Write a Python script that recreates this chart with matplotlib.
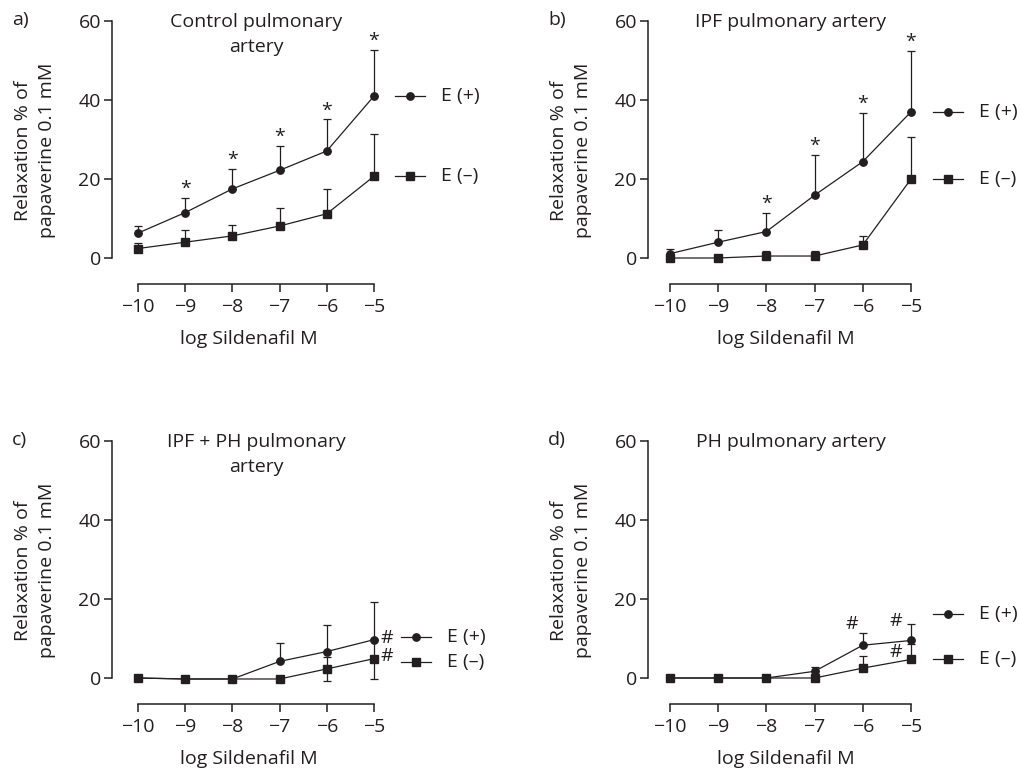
import numpy as np
import matplotlib
matplotlib.use("Agg")
import matplotlib.pyplot as plt

plt.rcParams['font.family'] = ['Open Sans', 'DejaVu Sans']
plt.rcParams['axes.unicode_minus'] = True

INK = '#231f20'

# log Sildenafil concentration (M)
log_conc = [-10, -9, -8, -7, -6, -5]

# relaxation (% of papaverine 0.1 mM), mean and error bar, E(+) / E(-)
a_ep = [6.3, 11.5, 17.5, 22.2, 27.1, 41.0]
a_ep_err = [1.9, 3.7, 5.1, 6.1, 8.0, 11.7]
a_em = [2.4, 4.0, 5.6, 8.1, 11.2, 20.7]
a_em_err = [1.5, 3.2, 2.8, 4.5, 6.2, 10.6]

b_ep = [1.1, 4.0, 6.7, 15.9, 24.4, 37.0]
b_ep_err = [1.3, 3.0, 4.8, 10.3, 12.4, 15.4]
b_em = [0.0, 0.0, 0.5, 0.5, 3.3, 20.0]
b_em_err = [0.3, 0.0, 1.3, 1.3, 2.3, 10.6]

c_ep = [0.0, -0.25, -0.25, 4.2, 6.7, 9.7]
c_ep_err = [0.0, 0.0, 0.0, 4.7, 6.7, 9.6]
c_em = [0.0, -0.25, -0.25, -0.25, 2.3, 4.9]
c_em_err = [0.0, 0.0, 0.0, 0.0, 3.0, 5.1]

d_ep = [0.0, 0.0, 0.0, 1.7, 8.3, 9.5]
d_ep_err = [0.0, 0.0, 0.0, 1.0, 3.1, 4.2]
d_em = [0.0, 0.0, 0.0, 0.0, 2.5, 4.7]
d_em_err = [0.0, 0.0, 0.0, 0.0, 3.0, 3.9]

titles = ['Control pulmonary\nartery', 'IPF pulmonary artery',
          'IPF + PH pulmonary\nartery', 'PH pulmonary artery']
letters = ['a)', 'b)', 'c)', 'd)']

# significance marks: (symbol, series, index, dx, dy) offsets in points
marks_a = [('*', 'ep', i, 0, 0) for i in range(1, 6)]
marks_b = [('*', 'ep', i, 0, 0) for i in range(2, 6)]
marks_c = [('#', 'ep', 5, 9, 1), ('#', 'em', 5, 9, 2)]
marks_d = [('#', 'ep', 4, -8, 15), ('#', 'ep', 5, -11, 14), ('#', 'em', 5, -11, 5)]

# pixel layout: y-spine x, x of -10, x of -5, y of 60, y of 0, x-spine y
layout = [
    (112, 138, 374, 21, 258, 284),
    (648, 670, 911, 21, 258, 284),
    (112, 138, 374, 441, 678, 704),
    (648, 670, 911, 441, 678, 704),
]
# legend anchor (x of marker, y of E(+), y of E(-)) in data units
legend_pos = [(-4.23, 41.0, 20.7), (-4.23, 37.0, 20.0),
              (-4.11, 10.4, 4.0), (-4.23, 16.1, 4.9)]

W, H = 1021, 771
fig = plt.figure(figsize=(W / 100, H / 100), dpi=100)

panels = [
    (a_ep, a_ep_err, a_em, a_em_err, False, marks_a),
    (b_ep, b_ep_err, b_em, b_em_err, False, marks_b),
    (c_ep, c_ep_err, c_em, c_em_err, True, marks_c),
    (d_ep, d_ep_err, d_em, d_em_err, False, marks_d),
]

FS = 14
for k, (ep, ep_err, em, em_err, sym_em, marks) in enumerate(panels):
    ysp, x10, x5, y60, y0, xsp = layout[k]
    ppu = (x5 - x10) / 5.0
    ppv = (y0 - y60) / 60.0
    right_px = x5 + 12
    top_px = y60 - 4
    ax = fig.add_axes([ysp / W, 1 - xsp / H, (right_px - ysp) / W, (xsp - top_px) / H])
    ax.set_xlim(-10 - (x10 - ysp) / ppu, -5 + 12 / ppu)
    ax.set_ylim(-(xsp - y0) / ppv, 60 + 4 / ppv)
    ax.patch.set_visible(False)

    for s in ['top', 'right']:
        ax.spines[s].set_visible(False)
    for s in ['left', 'bottom']:
        ax.spines[s].set_color(INK)
        ax.spines[s].set_linewidth(1.1)
    ax.spines['left'].set_bounds(0, 60)
    ax.spines['bottom'].set_bounds(-10, -5)
    ax.set_xticks(log_conc)
    ax.set_yticks([0, 20, 40, 60])
    ax.tick_params(direction='out', length=6, width=1.1, color=INK,
                   labelcolor=INK, labelsize=FS, pad=2)
    ax.tick_params(axis='x', pad=4)

    x = np.array(log_conc, dtype=float)
    ep = np.array(ep); em = np.array(em)
    ep_err = np.array(ep_err); em_err = np.array(em_err)

    ebk = dict(fmt='none', ecolor=INK, elinewidth=0.9, capsize=2.6, capthick=0.9, clip_on=False)
    ax.errorbar(x, ep, yerr=[np.zeros_like(ep_err), ep_err], zorder=2, **ebk)
    low = em_err if sym_em else np.zeros_like(em_err)
    ax.errorbar(x, em, yerr=[low, em_err], zorder=2, **ebk)

    ax.plot(x, ep, '-', color=INK, lw=0.9, marker='o', ms=5.3, mfc=INK, mec=INK,
            zorder=3, clip_on=False)
    ax.plot(x, em, '-', color=INK, lw=0.9, marker='s', ms=5.3, mfc=INK, mec=INK,
            zorder=3, clip_on=False)

    # legend next to the curves
    lx, ly_p, ly_m = legend_pos[k]
    half = 15 / ppu
    for yy, mk, lab in [(ly_p, 'o', 'E (+)'), (ly_m, 's', 'E (\u2013)')]:
        ax.plot([lx - half, lx + half], [yy, yy], color=INK, lw=0.9, clip_on=False)
        ax.plot([lx], [yy], marker=mk, ms=5.3, color=INK, clip_on=False)
        ax.text(lx + 31 / ppu, yy, lab, fontsize=FS, color=INK, va='center',
                ha='left', clip_on=False)

    # significance marks
    for sym, ser, i, dx, dy in marks:
        if sym == '*':
            ax.annotate(sym, (x[i], ep[i] + ep_err[i]), xytext=(0, 0),
                        textcoords='offset points', ha='center', va='bottom',
                        fontsize=FS, color=INK)
        else:
            ax.annotate(sym, (x[i], ep[i] if ser == 'ep' else em[i]), xytext=(dx, dy),
                        textcoords='offset points', ha='center', va='center',
                        fontsize=FS, color=INK)

    ax.annotate(titles[k], (-7.5, 60), xytext=(0, 5.5), textcoords='offset points',
                ha='center', va='top', fontsize=FS, color=INK, linespacing=1.45)
    ax.set_xlabel('log Sildenafil M', fontsize=FS, color=INK, labelpad=10)
    ax.set_ylabel('Relaxation % of\npapaverine 0.1 mM', fontsize=FS, color=INK,
                  labelpad=16, linespacing=1.45)
    fig.text((ysp - 100) / W, 1 - (y60 - 1) / H, letters[k], fontsize=FS, color=INK,
             ha='left', va='center')

fig.savefig('out.png', dpi=100)
